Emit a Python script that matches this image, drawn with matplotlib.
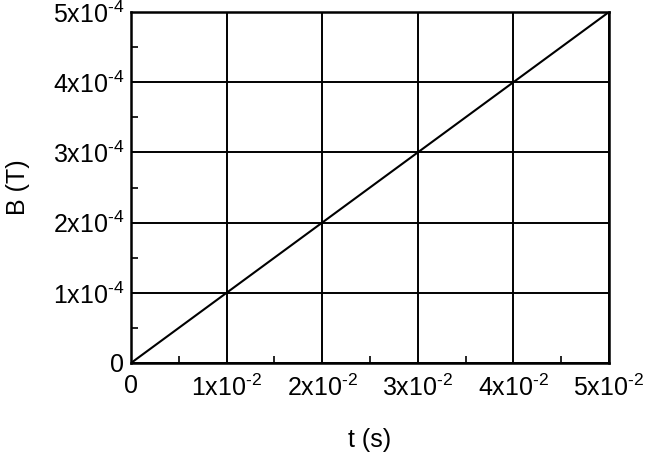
import matplotlib
matplotlib.use("Agg")
import matplotlib.pyplot as plt
from matplotlib.ticker import MultipleLocator

plt.rcParams['font.family'] = ['Liberation Sans', 'DejaVu Sans']
plt.rcParams['mathtext.fontset'] = 'custom'
plt.rcParams['mathtext.rm'] = 'Liberation Sans'
plt.rcParams['mathtext.default'] = 'regular'

t = [0.0, 0.05]
B = [0.0, 5e-4]
xticks = [0, 0.01, 0.02, 0.03, 0.04, 0.05]
xlabels = ['0', '1x10$^{\u20102}$', '2x10$^{\u20102}$', '3x10$^{\u20102}$', '4x10$^{\u20102}$', '5x10$^{\u20102}$']
yticks = [0, 1e-4, 2e-4, 3e-4, 4e-4, 5e-4]
ylabels = ['0', '1x10$^{\u20104}$', '2x10$^{\u20104}$', '3x10$^{\u20104}$', '4x10$^{\u20104}$', '5x10$^{\u20104}$']

fig = plt.figure(figsize=(6.62, 4.66), dpi=100)
ax = fig.add_axes([131/662, 103/466, (609-131)/662, (363-12)/466])
ax.plot(t, B, color='black', lw=1.5)
ax.set_xlim(0, 0.05)
ax.set_ylim(0, 5e-4)
ax.set_xticks(xticks)
ax.set_xticklabels(xlabels)
ax.set_yticks(yticks)
ax.set_yticklabels(ylabels)
ax.xaxis.set_minor_locator(MultipleLocator(0.005))
ax.yaxis.set_minor_locator(MultipleLocator(0.5e-4))
ax.tick_params(which='both', direction='in', labelsize=18, width=1.2, colors='black')
ax.tick_params(which='major', length=0)
ax.tick_params(axis='x', which='major', pad=8)
ax.tick_params(axis='y', which='major', pad=5)
ax.tick_params(which='minor', length=5)
ax.grid(True, which='major', color='black', lw=1.4)
for s in ax.spines.values():
    s.set_linewidth(1.8)
ax.set_xlabel('t (s)', fontsize=18, labelpad=20)
ax.set_ylabel('B (T)', fontsize=18, labelpad=16)
fig.savefig('out.png', dpi=100)
